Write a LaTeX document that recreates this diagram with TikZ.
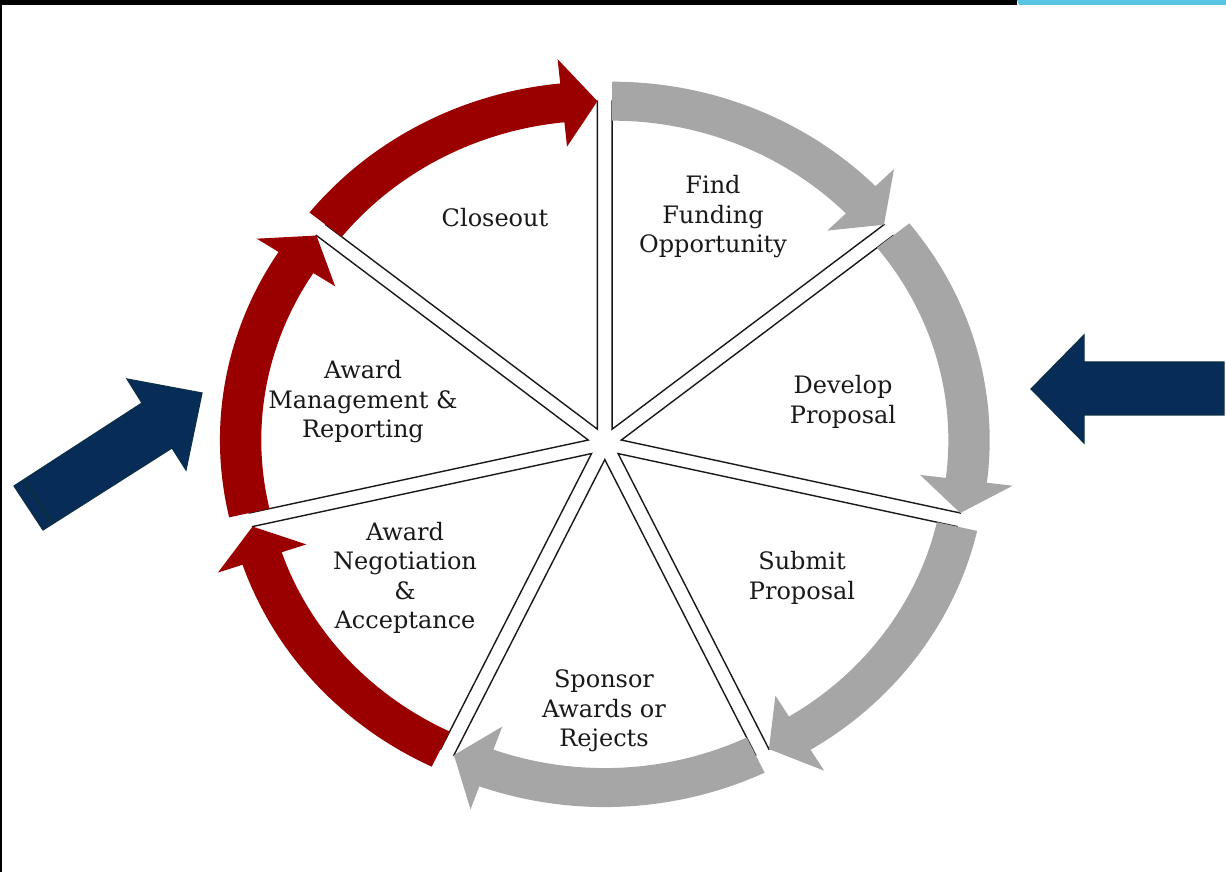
\documentclass[tikz,border=0pt]{standalone}
\usepackage{fontspec}
\setmainfont{DejaVu Serif}
\definecolor{stepgray}{HTML}{A6A6A6}
\definecolor{stepred}{HTML}{9B0000}
\definecolor{navy}{HTML}{062C57}
\definecolor{navyedge}{HTML}{0B3045}
\definecolor{topcyan}{HTML}{5AC6E2}
\tikzset{
    slice/.style={draw=black!90,fill=white,line width=0.7pt,line join=miter},
    phase/.style={align=center,inner sep=0pt,text=black!90,font=\fontsize{12}{14.75}\selectfont},
    pointer/.style={fill=navy,draw=navyedge,line width=0.6pt,line join=miter}
}
% wheel sizes (px)
\def\R{328}
\def\hw{19.5}
\def\hh{44}
\def\hl{5.8}
\def\off{16}

\begin{document}
\begin{tikzpicture}[x=0.5pt,y=0.5pt]

    \useasboundingbox (0,0) rectangle (1226,872);

    % frame
    \fill[black] (0,0) rectangle (2,872);
    \fill[black] (0,867) rectangle (1017,872);
    \fill[topcyan] (1017,872) -- (1226,872) -- (1226,867) -- (1019,867) -- cycle;

    \begin{scope}[shift={(604.8,428.4)},xscale=1.06]
        % the seven pieces
        \foreach \k in {0,...,6}{
            \pgfmathsetmacro\a{90-\k*360/7}
            \pgfmathsetmacro\e{\a-360/7}
            \pgfmathsetmacro\m{\a-180/7}
            \begin{scope}[shift={(\m:\off)}]
                \draw[slice] (0,0) -- (\a:\R) arc[start angle=\a,end angle=\e,radius=\R] -- cycle;
            \end{scope}
        }
        % curved arrows round the rim
        \foreach \k/\col in {0/stepgray,1/stepgray,2/stepgray,3/stepgray,4/stepred,5/stepred,6/stepred}{
            \pgfmathsetmacro\a{90-\k*360/7}
            \pgfmathsetmacro\e{\a-360/7}
            \pgfmathsetmacro\m{\a-180/7}
            \pgfmathsetmacro\h{\e+\hl}
            \begin{scope}[shift={(\m:\off)}]
                \fill[\col] (\a:{\R-\hw}) -- (\a:{\R+\hw})
                    arc[start angle=\a,end angle=\h,radius={\R+\hw}]
                    -- (\h:{\R+\hh}) -- (\e:\R) -- (\h:{\R-\hh}) -- (\h:{\R-\hw})
                    arc[start angle=\h,end angle=\a,radius={\R-\hw}] -- cycle;
            \end{scope}
        }
    \end{scope}

    \node[phase] (find)        at (713,655) {Find\\Funding\\Opportunity};
    \node[phase] (develop)     at (843,470) {Develop\\Proposal};
    \node[phase] (submit)      at (802,294) {Submit\\Proposal};
    \node[phase] (sponsor)     at (604,161) {Sponsor\\Awards or\\Rejects};
    \node[phase] (negotiation) at (405,294) {Award\\Negotiation\\\&\\Acceptance};
    \node[phase] (management)  at (363,470) {Award\\Management \&\\Reporting};
    \node[phase] (closeout)    at (495,654) {Closeout};

    % big pointers at the sides
    \draw[pointer] (14,386) -- (142,469) -- (127,493) -- (202,479) -- (186,402) -- (172,424) -- (43,342) -- cycle;
    \draw[navyedge,line width=1.5pt] (24,392) -- (53,348);
    \draw[pointer] (1224,510) -- (1084,510) -- (1084,537) -- (1031,483) -- (1084,429) -- (1084,457) -- (1224,457) -- cycle;

\end{tikzpicture}
\end{document}
